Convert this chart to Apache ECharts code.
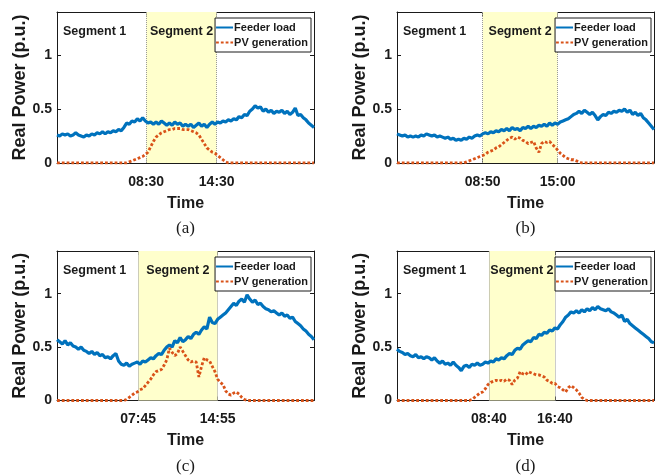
<!DOCTYPE html>
<html>
<head>
<meta charset="utf-8">
<script src="https://cdn.jsdelivr.net/npm/echarts@6/dist/echarts.min.js"></script>
<style>
  html, body { margin: 0; padding: 0; background: #fff; }
  #chart { width: 664px; height: 476px; }
</style>
</head>
<body>
<div id="chart"></div>
<script>
// Sample spacing (in sample index) of every stored series, and the last sample index
const STEP = 3;
const LAST = 288;

const panelTags = ['(a)', '(b)', '(c)', '(d)'];
const seriesNames = ['Feeder load', 'PV generation'];
const segmentNames = ['Segment 1', 'Segment 2'];

// Segment boundaries (sample index) and the clock times printed under them
const segBounds = [[100, 179], [96, 180], [91, 180], [103, 177]];
const segLabels = [['08:30', '14:30'], ['08:50', '15:00'], ['07:45', '14:55'], ['08:40', '16:40']];

const yTicks = [0, 0.5, 1];

// Feeder load (p.u.)
const loadA = [
  0.26,0.25,0.27,0.26,0.27,0.25,0.26,0.28,0.26,0.25,
  0.24,0.26,0.25,0.27,0.26,0.28,0.27,0.29,0.27,0.29,
  0.28,0.30,0.29,0.31,0.30,0.33,0.37,0.36,0.39,0.38,
  0.41,0.39,0.42,0.39,0.37,0.38,0.36,0.38,0.36,0.39,
  0.37,0.35,0.37,0.35,0.38,0.36,0.37,0.34,0.36,0.34,
  0.36,0.33,0.35,0.37,0.34,0.36,0.33,0.36,0.38,0.36,
  0.38,0.37,0.39,0.38,0.40,0.39,0.41,0.40,0.43,0.42,
  0.45,0.44,0.48,0.50,0.53,0.51,0.52,0.48,0.50,0.47,
  0.49,0.46,0.48,0.47,0.49,0.46,0.48,0.45,0.47,0.51,
  0.44,0.45,0.42,0.40,0.37,0.35,0.33
];
const loadB = [
  0.27,0.26,0.25,0.26,0.24,0.25,0.24,0.25,0.24,0.26,
  0.25,0.27,0.26,0.25,0.26,0.24,0.25,0.24,0.23,0.24,
  0.22,0.23,0.21,0.22,0.21,0.23,0.22,0.24,0.23,0.25,
  0.26,0.25,0.27,0.28,0.27,0.29,0.28,0.30,0.29,0.31,
  0.30,0.32,0.30,0.33,0.31,0.32,0.30,0.33,0.32,0.34,
  0.32,0.34,0.33,0.35,0.34,0.36,0.34,0.37,0.35,0.37,
  0.36,0.38,0.39,0.40,0.41,0.43,0.45,0.46,0.48,0.46,
  0.49,0.47,0.45,0.47,0.44,0.40,0.43,0.45,0.44,0.47,
  0.46,0.48,0.47,0.49,0.48,0.50,0.47,0.49,0.45,0.47,
  0.44,0.46,0.42,0.40,0.37,0.34,0.31
];
const loadC = [
  0.57,0.55,0.53,0.56,0.52,0.54,0.51,0.50,0.48,0.50,
  0.47,0.46,0.44,0.46,0.43,0.45,0.42,0.43,0.40,0.41,
  0.39,0.42,0.44,0.37,0.34,0.33,0.35,0.32,0.34,0.35,
  0.36,0.34,0.37,0.36,0.38,0.40,0.39,0.42,0.44,0.43,
  0.47,0.50,0.52,0.50,0.56,0.54,0.59,0.55,0.57,0.60,
  0.58,0.62,0.64,0.62,0.66,0.69,0.67,0.78,0.73,0.72,
  0.76,0.78,0.80,0.82,0.85,0.88,0.91,0.89,0.93,0.95,
  0.92,0.99,0.95,0.92,0.94,0.90,0.91,0.88,0.86,0.85,
  0.83,0.84,0.82,0.80,0.82,0.79,0.80,0.77,0.78,0.74,
  0.72,0.70,0.67,0.65,0.62,0.60,0.57
];
const loadD = [
  0.48,0.46,0.45,0.43,0.44,0.42,0.41,0.43,0.40,0.41,
  0.39,0.41,0.40,0.38,0.40,0.37,0.35,0.37,0.34,0.35,
  0.33,0.36,0.33,0.31,0.28,0.32,0.33,0.31,0.34,0.33,
  0.35,0.33,0.34,0.36,0.35,0.37,0.36,0.39,0.38,0.40,
  0.39,0.42,0.44,0.43,0.47,0.49,0.48,0.52,0.54,0.56,
  0.55,0.59,0.58,0.62,0.61,0.64,0.63,0.66,0.65,0.68,
  0.67,0.71,0.74,0.78,0.80,0.83,0.82,0.84,0.82,0.85,
  0.83,0.86,0.84,0.87,0.85,0.88,0.86,0.85,0.84,0.86,
  0.83,0.82,0.80,0.78,0.80,0.74,0.76,0.72,0.70,0.68,
  0.66,0.64,0.62,0.60,0.58,0.55,0.54
];

// PV generation (p.u.)
const pvA = [
  0,0,0,0,0,0,0,0,0,0,
  0,0,0,0,0,0,0,0,0,0,
  0,0,0,0,0,0,0,0.01,0.02,0.03,
  0.04,0.05,0.06,0.08,0.10,0.15,0.20,0.24,0.26,0.28,
  0.29,0.30,0.31,0.31,0.32,0.32,0.32,0.31,0.31,0.31,
  0.30,0.29,0.28,0.26,0.22,0.18,0.14,0.12,0.10,0.09,
  0.07,0.05,0.03,0.01,0,0,0,0,0,0,
  0,0,0,0,0,0,0,0,0,0,
  0,0,0,0,0,0,0,0,0,0,
  0,0,0,0,0,0,0
];
const pvB = [
  0,0,0,0,0,0,0,0,0,0,
  0,0,0,0,0,0,0,0,0,0,
  0,0,0,0,0,0,0.01,0.02,0.03,0.04,
  0.05,0.06,0.07,0.08,0.10,0.11,0.12,0.14,0.15,0.17,
  0.19,0.21,0.23,0.24,0.22,0.24,0.23,0.21,0.20,0.18,
  0.19,0.20,0.14,0.10,0.18,0.20,0.19,0.20,0.17,0.15,
  0.12,0.09,0.07,0.05,0.04,0.03,0.03,0.02,0.01,0,
  0,0,0,0,0,0,0,0,0,0,
  0,0,0,0,0,0,0,0,0,0,
  0,0,0,0,0,0,0
];
const pvC = [
  0,0,0,0,0,0,0,0,0,0,
  0,0,0,0,0,0,0,0,0,0,
  0,0,0,0,0,0,0.01,0.03,0.05,0.07,
  0.08,0.10,0.11,0.14,0.17,0.20,0.24,0.27,0.28,0.29,
  0.33,0.38,0.49,0.45,0.42,0.44,0.50,0.46,0.42,0.38,
  0.36,0.37,0.36,0.22,0.32,0.40,0.38,0.37,0.32,0.27,
  0.20,0.17,0.15,0.09,0.06,0.05,0.07,0.08,0.06,0.03,
  0.01,0,0,0,0,0,0,0,0,0,
  0,0,0,0,0,0,0,0,0,0,
  0,0,0,0,0,0,0
];
const pvD = [
  0,0,0,0,0,0,0,0,0,0,
  0,0,0,0,0,0,0,0,0,0,
  0,0,0,0,0,0,0,0,0.01,0.03,
  0.05,0.07,0.08,0.11,0.15,0.17,0.18,0.19,0.18,0.19,
  0.18,0.20,0.19,0.15,0.19,0.21,0.27,0.25,0.24,0.27,
  0.26,0.25,0.24,0.24,0.23,0.22,0.19,0.18,0.16,0.16,
  0.13,0.12,0.10,0.08,0.12,0.14,0.12,0.10,0.07,0.03,
  0.01,0,0,0,0,0,0,0,0,0,
  0,0,0,0,0,0,0,0,0,0,
  0,0,0,0,0,0,0
];

const loads = [loadA, loadB, loadC, loadD];
const pvs = [pvA, pvB, pvC, pvD];

const FONT = '"Liberation Sans", Arial, Helvetica, sans-serif';
const SERIF = '"Liberation Serif", "Times New Roman", serif';
const INK = '#1a1a1a';
const LOAD_COLOR = '#0072BD';
const PV_COLOR = '#D95319';
const SHADE = '#FFFFCC';

// Plot boxes of the four panels
const grids = [
  { left: 57, top: 12, width: 257, height: 151 },
  { left: 397, top: 12, width: 257, height: 151 },
  { left: 57, top: 251, width: 257, height: 150 },
  { left: 397, top: 251, width: 257, height: 150 }
];

const toPoints = arr => arr.map((v, i) => [i * STEP, v]);
const frame = { color: INK, width: 1 };

const option = {
  backgroundColor: '#fff',
  animation: false,
  grid: [], xAxis: [], yAxis: [], legend: [], series: []
};

panelTags.forEach((tag, k) => {
  const g = grids[k];
  const bounds = segBounds[k];
  option.grid.push({ left: g.left, top: g.top, width: g.width, height: g.height });

  // bottom time axis with the segment boundary labels
  option.xAxis.push({
    gridIndex: k, type: 'value', min: 0, max: LAST, position: 'bottom',
    axisLine: { show: true, onZero: false, lineStyle: frame },
    axisTick: { show: true, inside: true, length: 4, customValues: bounds, lineStyle: frame },
    axisLabel: {
      customValues: bounds,
      formatter: v => segLabels[k][bounds.indexOf(v)],
      fontFamily: FONT, fontSize: 14, fontWeight: 'bold', color: INK, margin: 12
    },
    splitLine: { show: false },
    name: '{t|Time}\n{c|' + tag + '}',
    nameLocation: 'middle', nameGap: 28,
    nameTextStyle: {
      rich: {
        t: { fontFamily: FONT, fontSize: 16, fontWeight: 'bold', color: INK, lineHeight: 25 },
        c: { fontFamily: SERIF, fontSize: 17, color: INK, lineHeight: 26 }
      }
    }
  });
  // top edge of the box, mirrored ticks
  option.xAxis.push({
    gridIndex: k, type: 'value', min: 0, max: LAST, position: 'top',
    axisLine: { show: true, onZero: false, lineStyle: frame },
    axisTick: { show: true, inside: true, length: 4, customValues: bounds, lineStyle: frame },
    axisLabel: { show: false }, splitLine: { show: false }
  });
  option.yAxis.push({
    gridIndex: k, type: 'value', min: 0, max: 1.4, position: 'left',
    axisLine: { show: true, onZero: false, lineStyle: frame },
    axisTick: { show: true, inside: true, length: 4, customValues: yTicks, lineStyle: frame },
    axisLabel: {
      customValues: yTicks,
      fontFamily: FONT, fontSize: 14, fontWeight: 'bold', color: INK, margin: 5
    },
    splitLine: { show: false },
    name: 'Real Power (p.u.)', nameLocation: 'middle', nameGap: 24,
    nameTextStyle: { fontFamily: FONT, fontSize: 18, fontWeight: 'bold', color: INK }
  });
  // right edge of the box, mirrored ticks
  option.yAxis.push({
    gridIndex: k, type: 'value', min: 0, max: 1.4, position: 'right',
    axisLine: { show: true, onZero: false, lineStyle: frame },
    axisTick: { show: true, inside: true, length: 4, customValues: yTicks, lineStyle: frame },
    axisLabel: { show: false }, splitLine: { show: false }
  });

  option.legend.push({
    data: seriesNames,
    orient: 'vertical',
    right: 664 - (g.left + g.width) + 3,
    top: g.top + 6,
    itemWidth: 17, itemHeight: 10, itemGap: 4,
    padding: [4, 3, 4, 0],
    borderColor: INK, borderWidth: 1, borderRadius: 0,
    backgroundColor: '#fff',
    selectedMode: false,
    itemStyle: { opacity: 0 },
    textStyle: { fontFamily: FONT, fontSize: 11, fontWeight: 'bold', color: INK, padding: [0, 0, 0, -4] },
    z: 10
  });

  const segLabel = { fontFamily: FONT, fontSize: 12.5, fontWeight: 'bold', color: INK };
  option.series.push({
    name: seriesNames[0], type: 'line',
    xAxisIndex: 2 * k, yAxisIndex: 2 * k,
    data: toPoints(loads[k]),
    showSymbol: false, symbol: 'none', z: 4,
    lineStyle: { color: LOAD_COLOR, width: 3.2 },
    itemStyle: { color: LOAD_COLOR },
    markArea: {
      silent: true,
      data: [
        [
          { name: segmentNames[0], xAxis: 0, itemStyle: { color: 'rgba(0,0,0,0)' },
            label: Object.assign({ show: true, position: 'insideTopLeft', distance: 6, offset: [0, 7] }, segLabel) },
          { xAxis: bounds[0] }
        ],
        [
          { name: segmentNames[1], xAxis: bounds[0], itemStyle: { color: SHADE },
            label: Object.assign({ show: true, position: 'insideTop', distance: 13 }, segLabel) },
          { xAxis: bounds[1] }
        ]
      ]
    },
    markLine: {
      silent: true, symbol: 'none', z: 1,
      label: { show: false },
      lineStyle: { color: '#9a9a9a', width: 1, type: 'dotted' },
      data: [{ xAxis: bounds[0] }, { xAxis: bounds[1] }]
    }
  });
  option.series.push({
    name: seriesNames[1], type: 'line',
    xAxisIndex: 2 * k, yAxisIndex: 2 * k,
    data: toPoints(pvs[k]),
    showSymbol: false, symbol: 'none', z: 5,
    lineStyle: { color: PV_COLOR, width: 2.8, type: [2.8, 2] },
    itemStyle: { color: PV_COLOR }
  });
});

const chart = echarts.init(document.getElementById('chart'), null, { renderer: 'canvas' });
chart.setOption(option);
</script>
</body>
</html>
